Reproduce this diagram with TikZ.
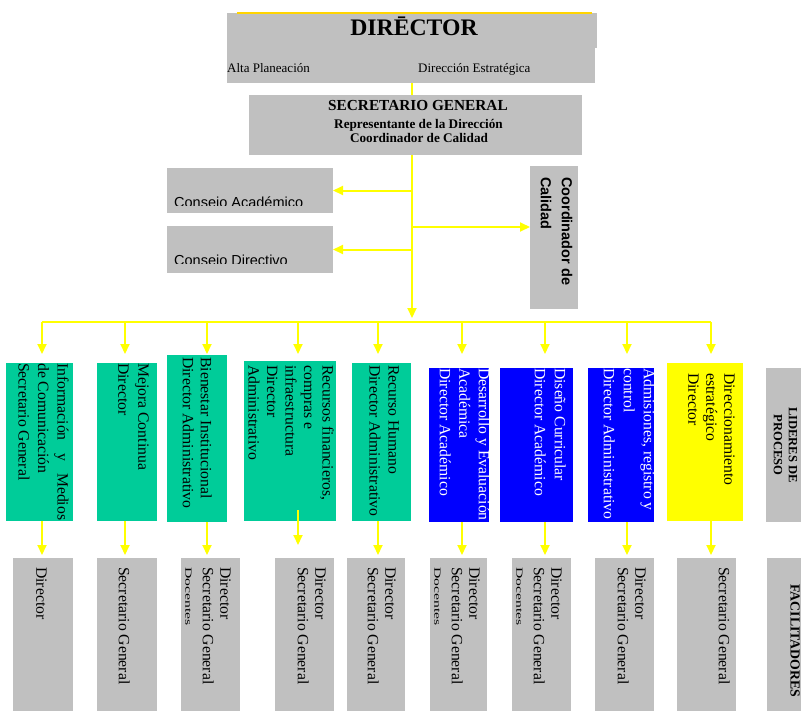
\documentclass[tikz,border=0pt]{standalone}
\usepackage{fontspec}
\usepackage{graphicx}
\setmainfont{Liberation Serif}
\setsansfont{Liberation Sans}
\usetikzlibrary{arrows.meta}
\definecolor{grisbox}{RGB}{192,192,192}
\definecolor{verde}{RGB}{0,204,153}
\definecolor{azul}{RGB}{0,0,255}
\definecolor{amar}{RGB}{255,255,0}
\definecolor{amarline}{RGB}{255,212,0}
\newcommand{\docsq}{\scalebox{1}[0.6]{Docentes}}
\begin{document}
\begin{tikzpicture}[x=1pt,y=-1pt,
  box/.style={anchor=north west, inner sep=0pt, outer sep=0pt, draw=none},
  gbox/.style={box, fill=grisbox},
  vbox/.style={box, fill=verde},
  bbox/.style={box, fill=azul},
  ybox/.style={box, fill=amar},
  conn/.style={draw=amar, line width=2pt},
  arr/.style={conn, -{Triangle[length=10pt,width=9pt]}},
  vtxt/.style={rotate=-90, anchor=north west, inner sep=0pt, align=left},
  fs/.style={font=\fontsize{15.7}{#1}\selectfont},
  htxt/.style={inner sep=0pt},
]
\clip (0,0) rectangle (801,710);
% ---------- Director ----------
\node[gbox, minimum width=370pt, minimum height=35pt] (dirA) at (227,13) {};
\node[gbox, minimum width=368pt, minimum height=35pt] (dirB) at (227,48) {};
\draw[draw=amarline, line width=2pt] (237,13) -- (592,13);
\node[htxt, anchor=base, font=\bfseries\fontsize{23.7}{28}\selectfont] (tdir) at (414,35.5) {DIR\={E}CTOR};
\node[htxt, anchor=base west, font=\fontsize{13}{15}\selectfont] (talta) at (227,72) {Alta Planeación};
\node[htxt, anchor=base west, font=\fontsize{13}{15}\selectfont] (tdes) at (418,72) {Dirección Estratégica};
% ---------- Secretario ----------
\node[gbox, minimum width=333pt, minimum height=60pt] (sec) at (249,95) {};
\node[htxt, anchor=base, font=\bfseries\fontsize{15.3}{18}\selectfont] (tsec) at (418,110) {SECRETARIO GENERAL};
\node[htxt, anchor=base, font=\bfseries\fontsize{13.2}{15}\selectfont] (trep) at (418.5,128) {Representante de la Dirección};
\node[htxt, anchor=base, font=\bfseries\fontsize{13.2}{15}\selectfont] (tcoc) at (419,142.5) {Coordinador de Calidad};
% ---------- Consejos ----------
\node[gbox, minimum width=166pt, minimum height=45pt] (ca) at (167,168) {};
\node[gbox, minimum width=166pt, minimum height=47pt] (cd) at (167,226) {};
\begin{scope}
\clip (167,168) rectangle (333,205.7);
\node[htxt, anchor=base west, font=\sffamily\fontsize{14.5}{17}\selectfont] (tca) at (174,207.5) {Consejo Académico};
\end{scope}
\begin{scope}
\clip (167,226) rectangle (333,263.8);
\node[htxt, anchor=base west, font=\sffamily\fontsize{14.5}{17}\selectfont] (tcd) at (174,265.5) {Consejo Directivo};
\end{scope}
% ---------- Coordinador ----------
\node[gbox, minimum width=48pt, minimum height=143pt] (coord) at (530,166) {};
\node[vtxt, font=\sffamily\bfseries\fontsize{14.5}{21}\selectfont] (tcoord) at (572.5,177) {Coordinador de\\Calidad};
% ---------- connectors upper ----------
\coordinate (m1) at (412,318);
\coordinate (k) at (412,227);
\draw[conn] (dirB.south -| m1) -- (sec.north -| m1);
\draw[arr] (sec.south -| m1) -- (m1);
\draw[arr] (ca.east -| m1) -- (ca.east);
\draw[arr] (cd.east -| m1) -- (cd.east);
\draw[arr] (k) -- (k -| coord.west);
% ---------- process boxes ----------
\node[vbox, minimum width=67pt, minimum height=158pt] (p1) at (6,363) {};
\node[vbox, minimum width=60pt, minimum height=158pt] (p2) at (97,363) {};
\node[vbox, minimum width=60pt, minimum height=167pt] (p3) at (167,355) {};
\node[vbox, minimum width=92pt, minimum height=160pt] (p4) at (244,361) {};
\node[vbox, minimum width=59pt, minimum height=158pt] (p5) at (352,363) {};
\node[bbox, minimum width=60pt, minimum height=154pt] (p6) at (429,368) {};
\node[bbox, minimum width=73pt, minimum height=154pt] (p7) at (500,368) {};
\node[bbox, minimum width=66pt, minimum height=154pt] (p8) at (588,368) {};
\node[ybox, minimum width=76pt, minimum height=158pt] (p9) at (667,363) {};
\node[gbox, minimum width=40pt, minimum height=154pt] (lid) at (766,368) {};
\node[vtxt, fs=19.5] (tp1) at (69,363) {\makebox[157pt][s]{Información y Medios}\\de Comunicación\\Secretario General};
\node[vtxt, fs=20] (tp2) at (149,363) {Mejora Continua\\Director};
\node[vtxt, fs=18] (tp3) at (212,357) {Bienestar Institucional\\Director Administrativo};
\node[vtxt, fs=18.5] (tp4) at (334,365) {Recursos financieros,\\compras e\\infraestructura\\Director\\Administrativo};
\node[vtxt, fs=19] (tp5) at (399,365) {Recurso Humano\\Director Administrativo};
\node[vtxt, fs=19.5, text=white] (tp6) at (490,368) {Desarrollo y Evaluación\\Académica\\Director Académico};
\node[vtxt, fs=20, text=white] (tp7) at (566,368) {Diseño Curricular\\Director Académico};
\node[vtxt, fs=20, text=white] (tp8) at (655,368) {Admisiones, registro y\\control\\Director Administrativo};
\node[vtxt, fs=18] (tp9) at (735,373) {Direccionamiento\\estratégico\\Director};
\node[rotate=-90, anchor=center, align=center, inner sep=0pt, font=\bfseries\fontsize{12.6}{15}\selectfont] (tlid) at (785.5,445) {LIDERES DE\\PROCESO};
% ---------- facilitator boxes ----------
\node[gbox, minimum width=60pt, minimum height=160pt] (f1) at (13,558) {};
\node[gbox, minimum width=60pt, minimum height=160pt] (f2) at (97,558) {};
\node[gbox, minimum width=59pt, minimum height=160pt] (f3) at (181,558) {};
\node[gbox, minimum width=59pt, minimum height=160pt] (f4) at (275,558) {};
\node[gbox, minimum width=58pt, minimum height=160pt] (f5) at (347,558) {};
\node[gbox, minimum width=57pt, minimum height=160pt] (f6) at (430,558) {};
\node[gbox, minimum width=59pt, minimum height=160pt] (f7) at (512,558) {};
\node[gbox, minimum width=59pt, minimum height=160pt] (f8) at (595,558) {};
\node[gbox, minimum width=59pt, minimum height=160pt] (f9) at (677,558) {};
\node[gbox, minimum width=40pt, minimum height=160pt] (fac) at (767,558) {};
\node[vtxt, fs=17.5] (tf1) at (47,567) {Director};
\node[vtxt, fs=17.5] (tf2) at (130,567) {Secretario General};
\node[vtxt, fs=17.5] (tf3) at (231,567) {Director\\Secretario General\\\docsq};
\node[vtxt, fs=17.5] (tf4) at (326,567) {Director\\Secretario General};
\node[vtxt, fs=17.5] (tf5) at (396,567) {Director\\Secretario General};
\node[vtxt, fs=17.5] (tf6) at (480,567) {Director\\Secretario General\\\docsq};
\node[vtxt, fs=17.5] (tf7) at (562,567) {Director\\Secretario General\\\docsq};
\node[vtxt, fs=17.5] (tf8) at (646,567) {Director\\Secretario General};
\node[vtxt, fs=17.5] (tf9) at (730,567) {Secretario General};
\node[rotate=-90, anchor=center, inner sep=0pt, font=\bfseries\fontsize{13.8}{16}\selectfont] (tfac) at (795,641) {FACILITADORES};
% ---------- bus and drops ----------
\foreach \i/\x in {1/42,2/125,3/207,4/298,5/378,6/462,7/545,8/627,9/711}{
  \coordinate (b\i) at (\x,322);
  \coordinate (t\i) at (\x,354);
  \coordinate (u\i) at (\x,555);
}
\coordinate (u4) at (298,545);
\coordinate (s4) at (298,510);
\draw[conn] (b1) -- (b9);
\foreach \i in {1,...,9}{ \draw[arr] (b\i) -- (t\i); }
\foreach \i in {1,2,3,5,6,7,8,9}{ \draw[arr] (u\i |- p\i.south) -- (u\i); }
\draw[arr] (s4) -- (u4);
\end{tikzpicture}
\end{document}
